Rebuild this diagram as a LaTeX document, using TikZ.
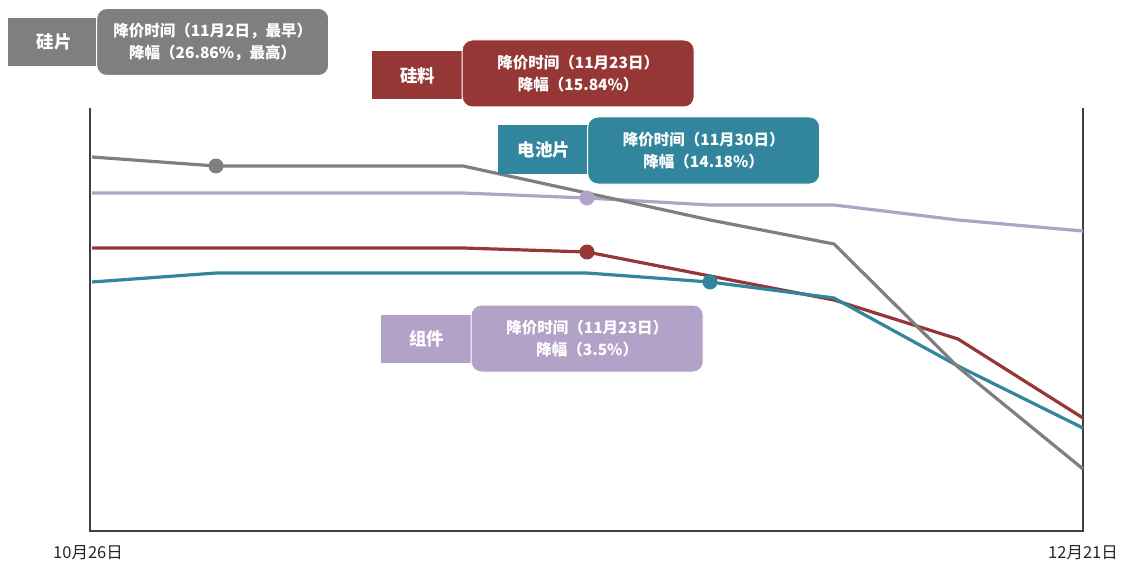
\documentclass[tikz,border=0pt]{standalone}
\usepackage{fontspec}
\setmainfont{Noto Sans CJK SC}
\usetikzlibrary{positioning}
\definecolor{siGray}{RGB}{127,127,127}
\definecolor{siRed}{RGB}{149,55,53}
\definecolor{cellTeal}{RGB}{49,133,156}
\definecolor{modPurple}{RGB}{179,162,199}
\tikzset{
	tagbox/.style={
		rectangle,
		minimum width=92pt,
		minimum height=48pt,
		inner sep=0pt,
		text=white,
		font=\bfseries\fontsize{17.5}{19}\selectfont,
	},
	callout/.style={
		draw=white,
		line width=1pt,
		rounded corners=10pt,
		minimum width=232pt,
		minimum height=67pt,
		align=center,
		text=white,
		font=\bfseries\fontsize{15.5}{22}\selectfont,
	},
	series/.style={
		line width=3.2pt,
		line join=round,
	},
	dot/.style={circle, minimum size=15pt, inner sep=0pt},
	frame/.style={line width=1.5pt, draw=black!75}
}

\begin{document}
\begin{tikzpicture}[x=1pt, y=-1pt]
	\useasboundingbox (0,0) rectangle (1121,567);

	% --- Frame ---
	\draw[frame] (90,108) -- (90,531) -- (1083,531) -- (1083,108);
	\node[font=\fontsize{16.5}{18}\selectfont, text=black!85] (startLbl) at (88,553) {10月26日};
	\node[font=\fontsize{16.5}{18}\selectfont, text=black!85] (endLbl) at (1083,553) {12月21日};

	% --- Price lines ---
	\draw[series, draw=modPurple] plot coordinates {(92,193) (216,193) (339,193) (463,193) (587,198) (710,205) (834,205) (958,220) (1083,231)};
	\draw[series, draw=siRed] plot coordinates {(92,248) (216,248) (339,248) (463,248) (587,252) (710,276) (834,300) (958,339) (1083,418)};
	\draw[series, draw=cellTeal] plot coordinates {(92,282) (216,273) (339,273) (463,273) (587,273) (710,282) (834,298) (958,366) (1083,428)};
	\draw[series, draw=siGray] plot coordinates {(92,157) (216,166) (339,166) (463,166) (587,193) (710,220) (834,244) (958,367) (1083,469)};

	% --- Markers ---
	\node[dot, fill=siGray] (siPianDot) at (216,166) {};
	\node[dot, fill=modPurple] (zuJianDot) at (587,198) {};
	\node[dot, fill=siRed] (siLiaoDot) at (587,252) {};
	\node[dot, fill=cellTeal] (cellDot) at (710,282) {};

	% --- Callouts ---
	\node[tagbox, fill=siGray] (siPianTag) at (54,42) {硅片};
	\node[callout, fill=siGray, right=-4pt of siPianTag] (siPianCall) {降价时间（11月2日，最早）\\降幅（26.86\%，最高）};

	\node[tagbox, fill=siRed] (siLiaoTag) at (417.5,75.5) {硅料};
	\node[callout, fill=siRed, right=-2pt of siLiaoTag, yshift=2pt] (siLiaoCall) {降价时间（11月23日）\\降幅（15.84\%）};

	\node[tagbox, fill=cellTeal] (cellTag) at (544,149.5) {电池片};
	\node[callout, fill=cellTeal, right=-3pt of cellTag, yshift=-1pt] (cellCall) {降价时间（11月30日）\\降幅（14.18\%）};

	\node[tagbox, fill=modPurple] (zuJianTag) at (426.5,338.5) {组件};
	\node[callout, fill=modPurple, right=-2pt of zuJianTag] (zuJianCall) {降价时间（11月23日）\\降幅（3.5\%）};
\end{tikzpicture}
\end{document}
